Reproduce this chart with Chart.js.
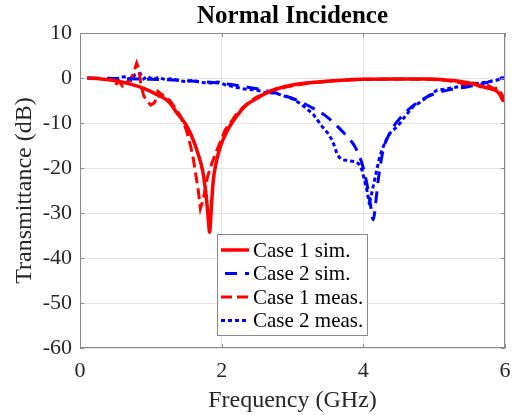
<!DOCTYPE html>
<html>
<head>
<meta charset="utf-8">
<script src="https://cdn.jsdelivr.net/npm/chart.js@4"></script>
<style>
  html, body { margin: 0; padding: 0; background: #fff; }
</style>
</head>
<body>
<canvas id="grafico" width="516" height="415"></canvas>
<script>
// Case 1 sim. (red solid)
const caso1SimFreq = [0.1, 0.3, 0.5, 0.7, 0.9, 1.1, 1.25, 1.37, 1.5, 1.6, 1.68, 1.73, 1.78, 1.81, 1.83, 1.85, 1.88, 1.92, 1.98, 2.07, 2.2, 2.35, 2.5, 2.7, 2.87, 3.1, 3.35, 3.7, 4.0, 4.5, 4.94, 5.2, 5.46, 5.6, 5.7, 5.8, 5.89, 5.94, 5.97, 6.0];
const caso1SimDb = [0, -0.2, -0.6, -1.3, -2.3, -3.8, -5.2, -7.8, -10.5, -13.8, -17.5, -20.5, -26, -31, -34.3, -30, -23, -19, -15.3, -12, -8.7, -6, -4.5, -2.8, -2, -1.3, -0.9, -0.5, -0.3, -0.2, -0.2, -0.5, -1.0, -1.5, -2.0, -2.4, -3, -4, -5, -5];

// Case 2 sim. (blue dashed)
const caso2SimFreq = [0.1, 0.5, 1.0, 1.5, 2.0, 2.5, 2.8, 3.1, 3.3, 3.45, 3.57, 3.7, 3.8, 3.88, 3.95, 4.0, 4.05, 4.09, 4.14, 4.18, 4.21, 4.28, 4.35, 4.42, 4.55, 4.66, 4.85, 5.04, 5.25, 5.46, 5.7, 5.97, 6.0];
const caso2SimDb = [0, -0.1, -0.3, -0.6, -1.2, -2.4, -3.5, -5.2, -6.8, -8.2, -9.8, -11.8, -13.5, -15.2, -17.5, -20, -23.5, -27, -31.5, -27, -22.7, -16, -13, -10.9, -8.4, -6.7, -4.6, -3.3, -2.5, -2, -1.2, 0, 0];

// Case 1 meas. (red dashed)
const caso1MeasFreq = [0.5, 0.55, 0.6, 0.65, 0.7, 0.75, 0.8, 0.83, 0.86, 0.9, 0.95, 1.0, 1.05, 1.08, 1.1, 1.15, 1.2, 1.27, 1.35, 1.42, 1.5, 1.56, 1.6, 1.63, 1.67, 1.7, 1.74, 1.8, 1.86, 1.92, 2.0, 2.05, 2.1, 2.2, 2.3, 2.4, 2.5, 2.7, 2.9, 3.2, 3.6, 4.0, 4.5, 4.9, 5.1, 5.3, 5.45, 5.55, 5.65, 5.75, 5.85, 5.9, 5.95, 6.0];
const caso1MeasDb = [-1.5, -0.8, -1.8, -1.0, -0.5, 0.8, 3.3, 2.0, -1.5, -4.0, -5.2, -6.0, -5.5, -4.5, -3.0, -3.6, -4.2, -5, -6.8, -8.5, -11.5, -15, -18, -21, -25, -29, -27, -22, -19, -16.5, -13.5, -11.5, -10.5, -8.2, -6.5, -5.2, -4.2, -3, -2, -1.2, -0.6, -0.3, -0.2, -0.3, -0.4, -0.8, -1.5, -1.1, -2, -1.6, -2.4, -2.2, -3.5, -5];

// Case 2 meas. (blue dotted)
const caso2MeasFreq = [0.5, 0.58, 0.66, 0.72, 0.78, 0.85, 0.9, 0.95, 1.03, 1.1, 1.22, 1.3, 1.4, 1.5, 1.6, 1.7, 1.84, 1.95, 2.05, 2.16, 2.3, 2.44, 2.55, 2.64, 2.75, 2.92, 3.0, 3.1, 3.2, 3.3, 3.36, 3.42, 3.5, 3.56, 3.6, 3.63, 3.68, 3.72, 3.8, 3.9, 3.95, 3.98, 4.02, 4.05, 4.08, 4.1, 4.14, 4.19, 4.23, 4.28, 4.33, 4.38, 4.45, 4.52, 4.6, 4.7, 4.8, 4.9, 4.97, 5.04, 5.15, 5.32, 5.45, 5.6, 5.75, 5.88, 5.97, 6.0];
const caso2MeasDb = [-0.4, 0.2, 0.3, -0.5, 0.8, 1.0, -0.2, 0.4, -0.4, 0.1, -0.4, -0.1, -0.6, -0.8, -0.5, -1.0, -1.1, -0.9, -1.5, -1.9, -2.4, -2.6, -2.9, -3.4, -3.3, -4.2, -4.6, -5.6, -6.8, -8.2, -9.5, -10.8, -12.3, -13.8, -15.5, -17, -18, -18.2, -18.4, -18.6, -19.3, -20.4, -23, -24.9, -27.5, -27, -24, -20.4, -17.5, -15.3, -13.5, -12.2, -11.2, -10, -8.3, -6.4, -5.4, -4.2, -3.5, -2.7, -2.5, -2, -1.6, -1.2, -0.9, -0.5, 0, 0];

const ticksY = [10, 0, -10, -20, -30, -40, -50, -60];
const ticksX = [0, 2, 4, 6];

const serif = "'Liberation Serif', 'Times New Roman', serif";

function puntos(freq, db) {
  return freq.map((f, i) => ({ x: f, y: db[i] }));
}

// titulo, marco, marcas interiores y leyenda dentro del area
const marcoPlugin = {
  id: 'marco',
  afterDatasetsDraw(chart) {
    const { ctx, chartArea: a, scales } = chart;
    ctx.save();

    // marco
    ctx.strokeStyle = '#8a8a8a';
    ctx.lineWidth = 1;
    ctx.strokeRect(a.left + 0.5, a.top + 0.5, a.right - a.left - 1, a.bottom - a.top - 1);

    // marcas interiores
    ctx.beginPath();
    ticksX.forEach((v) => {
      const px = Math.round(scales.x.getPixelForValue(v)) + 0.5;
      ctx.moveTo(px, a.bottom); ctx.lineTo(px, a.bottom - 4);
      ctx.moveTo(px, a.top); ctx.lineTo(px, a.top + 4);
    });
    ticksY.forEach((v) => {
      const py = Math.round(scales.y.getPixelForValue(v)) + 0.5;
      ctx.moveTo(a.left, py); ctx.lineTo(a.left + 4, py);
      ctx.moveTo(a.right, py); ctx.lineTo(a.right - 4, py);
    });
    ctx.stroke();

    // titulo
    ctx.fillStyle = '#000';
    ctx.font = 'bold 25px ' + serif;
    ctx.textAlign = 'center';
    ctx.textBaseline = 'middle';
    ctx.fillText('Normal Incidence', (a.left + a.right) / 2, 17);

    // leyenda
    const lx = 217, ly = 234, lw = 150, lh = 101;
    ctx.fillStyle = '#fff';
    ctx.fillRect(lx, ly, lw, lh);
    ctx.strokeStyle = '#8a8a8a';
    ctx.strokeRect(lx + 0.5, ly + 0.5, lw, lh);
    ctx.font = '21px ' + serif;
    ctx.textAlign = 'left';
    chart.data.datasets.forEach((ds, i) => {
      const cy = ly + 16 + i * 23.5;
      ctx.beginPath();
      ctx.strokeStyle = ds.borderColor;
      ctx.lineWidth = ds.borderWidth;
      ctx.setLineDash(ds.borderDash || []);
      ctx.lineDashOffset = ds.legendOffset || 0;
      ctx.moveTo(lx + 4, cy);
      ctx.lineTo(lx + 32, cy);
      ctx.stroke();
      ctx.setLineDash([]);
      ctx.fillStyle = '#000';
      ctx.fillText(ds.label, lx + 36, cy + 1);
    });

    ctx.restore();
  }
};

new Chart(document.getElementById('grafico'), {
  type: 'line',
  data: {
    datasets: [
      {
        label: 'Case 1 sim.',
        data: puntos(caso1SimFreq, caso1SimDb),
        borderColor: '#ff0000',
        borderWidth: 3.5,
        cubicInterpolationMode: 'monotone',
      },
      {
        label: 'Case 2 sim.',
        data: puntos(caso2SimFreq, caso2SimDb),
        borderColor: '#0000ff',
        borderWidth: 3,
        borderDash: [12, 8],
        legendOffset: -4,
        cubicInterpolationMode: 'monotone',
      },
      {
        label: 'Case 1 meas.',
        data: puntos(caso1MeasFreq, caso1MeasDb),
        borderColor: '#ff0000',
        borderWidth: 3,
        borderDash: [11, 5],
      },
      {
        label: 'Case 2 meas.',
        data: puntos(caso2MeasFreq, caso2MeasDb),
        borderColor: '#0000ff',
        borderWidth: 3,
        borderDash: [4, 3],
      },
    ],
  },
  options: {
    responsive: false,
    animation: false,
    devicePixelRatio: 1,
    elements: { point: { radius: 0 }, line: { fill: false } },
    layout: { padding: { top: 33, right: 11, left: 0, bottom: 0 } },
    plugins: {
      legend: { display: false },
      title: { display: false },
      tooltip: { enabled: false },
    },
    scales: {
      x: {
        type: 'linear',
        min: 0,
        max: 6,
        afterBuildTicks: (s) => { s.ticks = ticksX.map((v) => ({ value: v })); },
        afterFit: (s) => { s.height = 67; s.paddingLeft = 0; s.paddingRight = 0; },
        grid: { color: '#e3e3e3', drawTicks: false },
        border: { display: false },
        ticks: { padding: 10, color: '#262626', font: { family: serif, size: 22 } },
        title: {
          display: true,
          text: 'Frequency (GHz)',
          color: '#262626',
          font: { family: serif, size: 24 },
          padding: { top: 0, bottom: 0 },
        },
      },
      y: {
        min: -60,
        max: 10,
        afterBuildTicks: (s) => { s.ticks = ticksY.map((v) => ({ value: v })); },
        afterFit: (s) => { s.width = 80; s.paddingTop = 0; s.paddingBottom = 0; },
        grid: { color: '#e3e3e3', drawTicks: false },
        border: { display: false },
        ticks: { padding: 8, color: '#262626', font: { family: serif, size: 22 } },
        title: {
          display: true,
          text: 'Transmittance (dB)',
          color: '#262626',
          font: { family: serif, size: 24 },
          padding: { top: 10, bottom: 0 },
        },
      },
    },
  },
  plugins: [marcoPlugin],
});
</script>
</body>
</html>
